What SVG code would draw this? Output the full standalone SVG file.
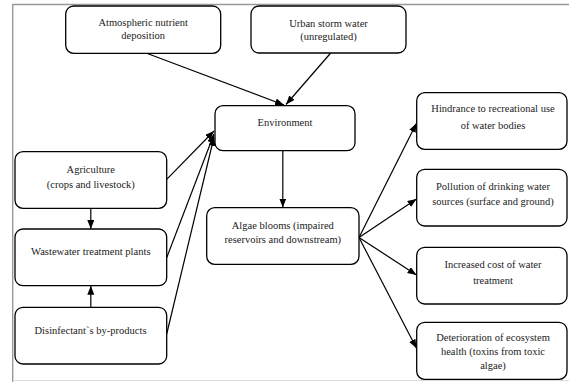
<svg xmlns="http://www.w3.org/2000/svg" width="569" height="382" viewBox="0 0 569 382">
<style>
.box{fill:#fff;stroke:#000;stroke-width:1.3}
.t{font-family:"Liberation Serif","Times New Roman",Tinos,serif;font-size:10.5px;fill:#222;text-anchor:middle}
.c{fill:none;stroke:#000;stroke-width:1.2}
</style>
<defs>
<marker id="ah" markerUnits="userSpaceOnUse" markerWidth="10" markerHeight="8" refX="9" refY="3.5" orient="auto">
<path d="M0,0 L9,3.5 L0,7 z" fill="#000"/>
</marker>
</defs>
<rect x="0" y="0" width="569" height="382" fill="#fff"/>
<g id="frame">
<path d="M12.7,382 V4.5 H569" fill="none" stroke="#999" stroke-width="1.4"/>
<path d="M12.7,380.5 H569" fill="none" stroke="#ddd" stroke-width="1"/>
</g>
<g id="connectors">
<line class="c" x1="146.7" y1="53.3" x2="284" y2="105" marker-end="url(#ah)"/>
<line class="c" x1="330.7" y1="53" x2="286" y2="104.5" marker-end="url(#ah)"/>
<line class="c" x1="282.8" y1="150.7" x2="282.8" y2="207.5" marker-end="url(#ah)"/>
<line class="c" x1="166.7" y1="179.3" x2="214" y2="131" marker-end="url(#ah)"/>
<line class="c" x1="166.7" y1="257.7" x2="214" y2="134" marker-end="url(#ah)"/>
<line class="c" x1="166.7" y1="334" x2="214" y2="137" marker-end="url(#ah)"/>
<line class="c" x1="90.8" y1="208.3" x2="90.8" y2="229" marker-end="url(#ah)"/>
<line class="c" x1="90.8" y1="307.3" x2="90.8" y2="285.7" marker-end="url(#ah)"/>
<line class="c" x1="359" y1="237.5" x2="416.5" y2="123.3" marker-end="url(#ah)"/>
<line class="c" x1="359" y1="237.5" x2="416.5" y2="199" marker-end="url(#ah)"/>
<line class="c" x1="359" y1="237.5" x2="416.5" y2="275" marker-end="url(#ah)"/>
<line class="c" x1="359" y1="237.5" x2="416.5" y2="348.3" marker-end="url(#ah)"/>
</g>
<g id="atmospheric">
<rect class="box" x="65.7" y="6" width="155" height="47.3" rx="8"/>
<text class="t" x="143.2" y="26.2" textLength="89.5" lengthAdjust="spacingAndGlyphs">Atmospheric nutrient</text>
<text class="t" x="143.2" y="39" textLength="43.8" lengthAdjust="spacingAndGlyphs">deposition</text>
</g>
<g id="urban">
<rect class="box" x="251" y="6" width="155" height="47" rx="8"/>
<text class="t" x="328.5" y="26.8" textLength="78.7" lengthAdjust="spacingAndGlyphs">Urban storm water</text>
<text class="t" x="328.5" y="39.5" textLength="56.6" lengthAdjust="spacingAndGlyphs">(unregulated)</text>
</g>
<g id="environment">
<rect class="box" x="215" y="105.7" width="140" height="45" rx="8"/>
<text class="t" x="285" y="125.8" textLength="54.8" lengthAdjust="spacingAndGlyphs">Environment</text>
</g>
<g id="agriculture">
<rect class="box" x="15" y="151.7" width="151.7" height="56.6" rx="8"/>
<text class="t" x="90.8" y="172.8" textLength="48.4" lengthAdjust="spacingAndGlyphs">Agriculture</text>
<text class="t" x="90.8" y="187.5" textLength="88.1" lengthAdjust="spacingAndGlyphs">(crops and livestock)</text>
</g>
<g id="wastewater">
<rect class="box" x="15" y="229" width="151.7" height="56.7" rx="8"/>
<text class="t" x="90.8" y="255.2" textLength="119.6" lengthAdjust="spacingAndGlyphs">Wastewater treatment plants</text>
</g>
<g id="disinfectant">
<rect class="box" x="15" y="307.3" width="151.7" height="56.7" rx="8"/>
<text class="t" x="90.5" y="333.5" textLength="112" lengthAdjust="spacingAndGlyphs">Disinfectant`s by-products</text>
</g>
<g id="algae">
<rect class="box" x="206.7" y="207.7" width="152.3" height="56.6" rx="8"/>
<text class="t" x="282.8" y="229.2" textLength="102.1" lengthAdjust="spacingAndGlyphs">Algae blooms (impaired</text>
<text class="t" x="282.8" y="242.8" textLength="116.6" lengthAdjust="spacingAndGlyphs">reservoirs and downstream)</text>
</g>
<g id="hindrance">
<rect class="box" x="416.7" y="92.7" width="150.3" height="56.6" rx="8"/>
<text class="t" x="493" y="111.8" textLength="123.3" lengthAdjust="spacingAndGlyphs">Hindrance to recreational use</text>
<text class="t" x="493" y="128.5" textLength="64.7" lengthAdjust="spacingAndGlyphs">of water bodies</text>
</g>
<g id="pollution">
<rect class="box" x="416.7" y="169.3" width="150.3" height="56.7" rx="8"/>
<text class="t" x="493" y="189.5" textLength="114" lengthAdjust="spacingAndGlyphs">Pollution of drinking water</text>
<text class="t" x="493" y="204.8" textLength="121.6" lengthAdjust="spacingAndGlyphs">sources (surface and ground)</text>
</g>
<g id="cost">
<rect class="box" x="416.7" y="247.3" width="150.3" height="56.7" rx="8"/>
<text class="t" x="493" y="267.8" textLength="97.1" lengthAdjust="spacingAndGlyphs">Increased cost of water</text>
<text class="t" x="493" y="283.5" textLength="39.7" lengthAdjust="spacingAndGlyphs">treatment</text>
</g>
<g id="deterioration">
<rect class="box" x="416.7" y="322.3" width="150.3" height="57" rx="8"/>
<text class="t" x="493" y="341.2" textLength="113.7" lengthAdjust="spacingAndGlyphs">Deterioration of ecosystem</text>
<text class="t" x="493" y="355.2" textLength="104.1" lengthAdjust="spacingAndGlyphs">health (toxins from toxic</text>
<text class="t" x="493" y="369.2" textLength="25.7" lengthAdjust="spacingAndGlyphs">algae)</text>
</g>
</svg>
